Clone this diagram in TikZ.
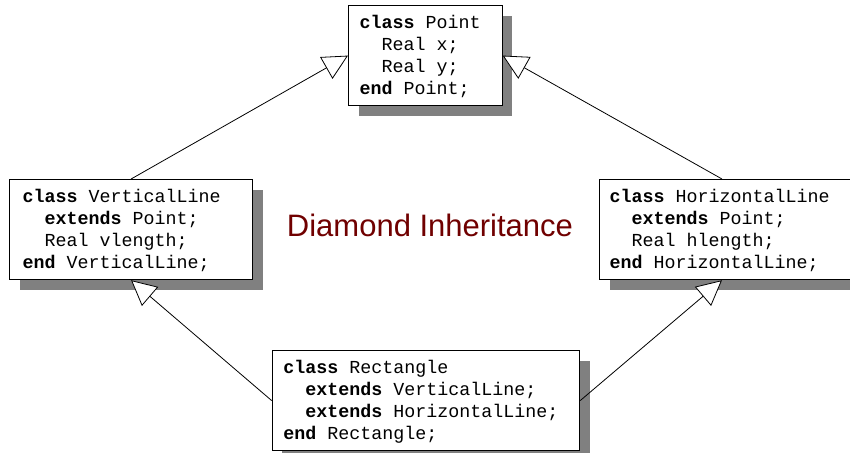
\documentclass[tikz,border=0pt]{standalone}
\usepackage{fontspec}
\setmainfont{Liberation Sans}
\newfontfamily\codefont{Liberation Mono}
\usetikzlibrary{arrows.meta,shadows,calc}
\definecolor{titlered}{RGB}{112,0,0}
\definecolor{shadowgray}{RGB}{128,128,128}
\newcommand{\codesetup}{\codefont\fontsize{18.33}{21.8}\selectfont}
\tikzset{
  classbox/.style={draw=black, line width=1.2pt, fill=white, anchor=north west,
    align=left, inner xsep=11pt, inner ysep=0pt, text height=23pt, text depth=77pt,
    font=\codesetup,
    drop shadow={shadow xshift=10pt, shadow yshift=-10pt, fill=shadowgray, opacity=1}},
  inherit/.style={draw=black, line width=0.8pt,
    -{Triangle[length=25pt,width=25pt,fill=white]}},
  diagtitle/.style={font=\fontsize{31}{36}\selectfont, text=titlered, anchor=base, inner sep=0pt}
}
\newcommand{\kw}[1]{\textbf{#1}}
\newcommand{\ind}{\hspace*{22pt}}
\newcommand{\gap}{\hspace*{11pt}}
\begin{document}
\begin{tikzpicture}[x=1pt,y=-1pt]
\useasboundingbox (0,0) rectangle (850,452);
\node[classbox, text width=131.5pt] (pt) at (348,5)
  {\kw{class}\gap Point\\\ind Real\gap x;\\\ind Real\gap y;\\\kw{end}\gap Point;};
\node[classbox, inner xsep=13pt, text width=217pt] (vl) at (9,179)
  {\kw{class}\gap VerticalLine\\\ind\kw{extends}\gap Point;\\\ind Real\gap vlength;\\\kw{end}\gap VerticalLine;};
\node[classbox, inner xsep=10pt, text width=241pt] (hl) at (599,179)
  {\kw{class}\gap HorizontalLine\\\ind\kw{extends}\gap Point;\\\ind Real\gap hlength;\\\kw{end}\gap HorizontalLine;};
\node[classbox, text width=285.3pt] (rect) at (271.7,350)
  {\kw{class}\gap Rectangle\\\ind\kw{extends}\gap VerticalLine;\\\ind\kw{extends}\gap HorizontalLine;\\\kw{end}\gap Rectangle;};
\node[diagtitle] (title) at (430,236) {Diamond Inheritance};
\draw[inherit] (vl.north) -- (pt.west);
\draw[inherit] ($(hl.north west)+(123,0)$) -- (pt.east);
\draw[inherit] (rect.west) -- (vl.south);
\draw[inherit] (rect.east) -- ($(hl.south west)+(123,0)$);
\end{tikzpicture}
\end{document}
